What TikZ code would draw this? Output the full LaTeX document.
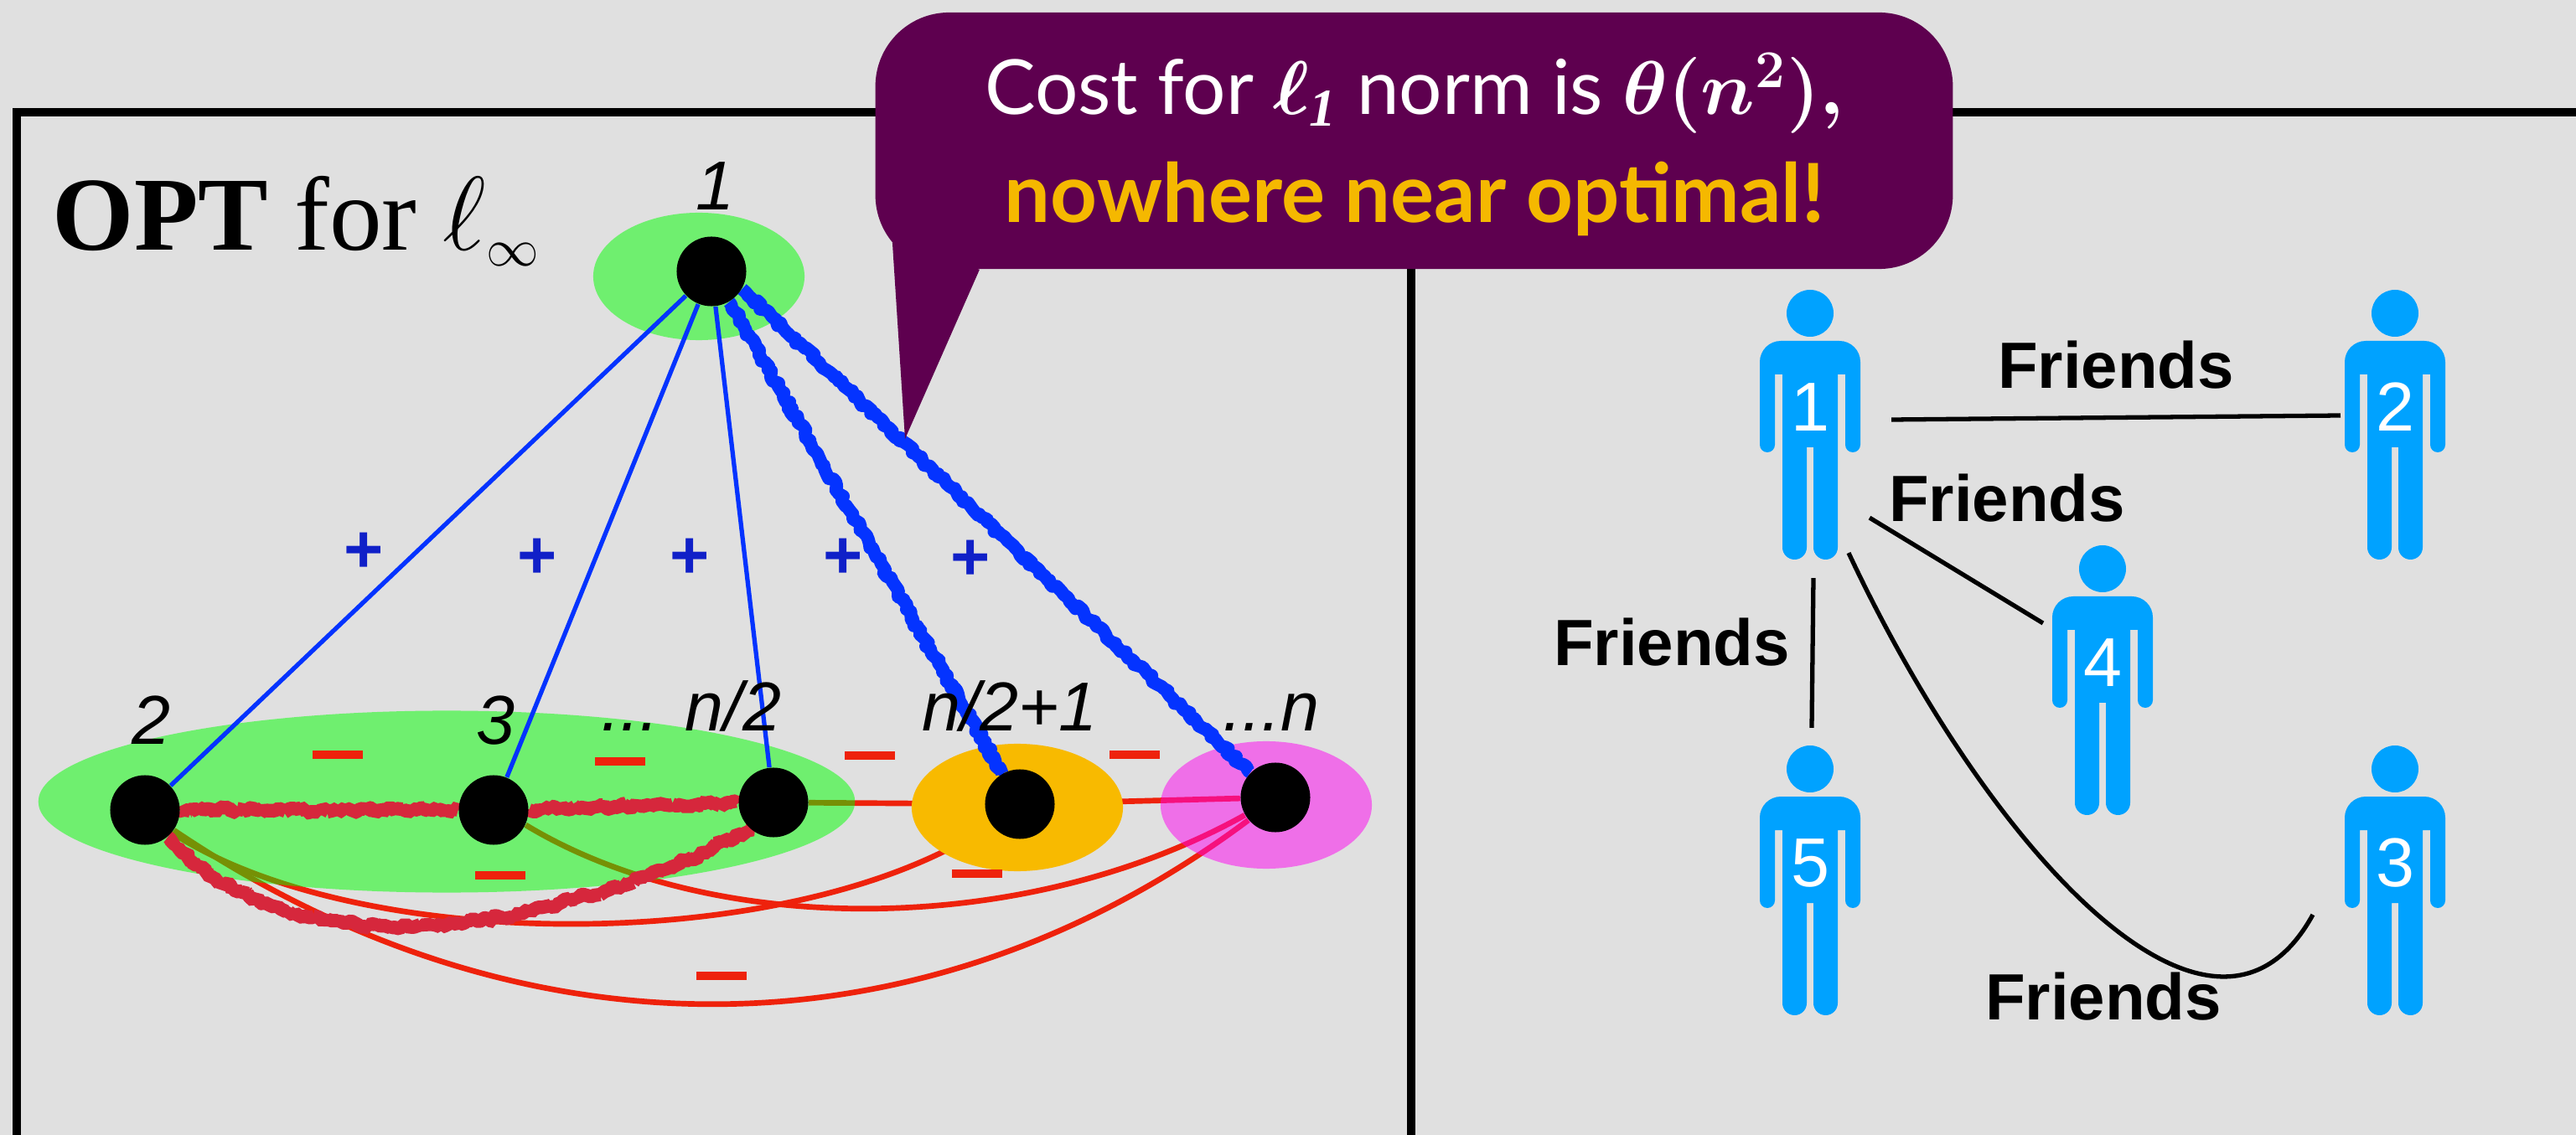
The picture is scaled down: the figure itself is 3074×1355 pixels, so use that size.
\RequirePackage{fix-cm}
\documentclass[tikz,border=0pt]{standalone}
\usepackage{fontspec}
\setmainfont{Liberation Serif}
\newfontfamily\figsans{Liberation Sans}
\newfontfamily\callsans{Lato}
\usepackage{tikz}
\usetikzlibrary{shapes.geometric,decorations.pathmorphing}
\definecolor{slidegray}{RGB}{224,224,224}
\definecolor{calloutplum}{RGB}{94,0,79}
\definecolor{calloutgold}{RGB}{245,184,0}
\definecolor{edgeblue}{RGB}{4,51,255}
\definecolor{plusblue}{RGB}{16,32,200}
\definecolor{edgered}{RGB}{238,34,12}
\definecolor{roughred}{RGB}{214,39,60}
\definecolor{blobgold}{RGB}{248,186,0}
\definecolor{blobpink}{RGB}{255,0,240}
\definecolor{personblue}{RGB}{0,162,255}
\pgfdeclarelayer{edgelayer}
\pgfdeclarelayer{bloblayer}
\pgfdeclarelayer{roughlayer}
\pgfsetlayers{edgelayer,bloblayer,roughlayer,main}
\newcommand{\friendfig}[4]{%
  \begin{scope}[shift={(#2,#3)}]
    \fill[personblue] (0,28) circle [radius=28];
    \fill[personblue] (-60,125) [rounded corners=0.25cm] -- (-60,61) -- (60,61) -- (60,125)
      [rounded corners=0.09cm] -- (60,194) -- (42,194) [sharp corners] -- (42,101) -- (33,101)
      [rounded corners=0.145cm] -- (33,322) -- (4,322) [sharp corners] -- (4,188) -- (-4,188)
      [rounded corners=0.145cm] -- (-4,322) -- (-33,322) [sharp corners] -- (-33,101) -- (-42,101)
      [rounded corners=0.09cm] -- (-42,194) -- (-60,194) [sharp corners] -- cycle;
    \node[figbox] (#1) at (0,161) {};
    \node[fignum] (#1num) at (0,140) {#4};
  \end{scope}}
\begin{document}
\begin{tikzpicture}[
  x=0.01cm,y=-0.01cm,
  vert/.style={circle,fill=black,inner sep=0pt,minimum size=0.83cm},
  blob/.style={ellipse,inner sep=0pt,minimum width=2.52cm,minimum height=1.52cm},
  vertlabel/.style={font=\figsans\itshape\fontsize{23.5}{24}\selectfont,inner sep=0pt},
  thinblue/.style={draw=edgeblue,line width=1.5pt},
  roughblue/.style={draw=edgeblue,line width=4.4pt,line join=round,decorate,decoration={random steps,segment length=1.2pt,amplitude=0.8pt}},
  thinred/.style={draw=edgered,line width=1.9pt},
  roughline/.style={draw=roughred,line width=4.6pt,line join=bevel,decorate,decoration={random steps,segment length=1pt,amplitude=1pt}},
  plussign/.style={font=\figsans\bfseries\fontsize{23}{24}\selectfont,text=plusblue,inner sep=0pt},
  minussign/.style={fill=edgered,inner sep=0pt,minimum width=0.6cm,minimum height=0.1cm},
  figbox/.style={inner sep=0pt,outer sep=0pt,minimum width=1.2cm,minimum height=3.22cm},
  fignum/.style={font=\figsans\fontsize{23.5}{24}\selectfont,text=white,inner sep=0pt},
  friendlabel/.style={font=\figsans\bfseries\fontsize{22.2}{24}\selectfont,inner sep=0pt},
  friendline/.style={draw=black,line width=1.5pt},
  frameline/.style={draw=black,line width=3pt},
  callout/.style={fill=calloutplum,rounded corners=0.88cm,inner sep=0pt,
    minimum width=12.85cm,minimum height=3.06cm},
  calltext/.style={anchor=base,inner sep=0pt,font=\callsans\fontsize{25.8}{30}\selectfont}
]
\useasboundingbox (0,0) rectangle (3074,1355);
\begin{pgfonlayer}{edgelayer}
\fill[slidegray] (0,0) rectangle (3074,1355);
\end{pgfonlayer}

\node[vert] (v1) at (849,324) {};
\node[vert] (v2) at (173,967) {};
\node[vert] (v3) at (589,967) {};
\node[vert] (vh) at (923,958) {};
\node[vert] (vj) at (1217,960) {};
\node[vert] (vn) at (1522,952) {};

\begin{pgfonlayer}{bloblayer}
\node[blob,fill=green,fill opacity=0.5] (blobtop) at (834,330) {};
\node[blob,fill=green,fill opacity=0.5,minimum width=9.74cm,minimum height=2.17cm] (blobleft) at (533,957) {};
\node[blob,fill=blobgold] (blobmid) at (1214,964) {};
\node[blob,fill=blobpink,fill opacity=0.5] (blobright) at (1511,961) {};
\end{pgfonlayer}

\begin{pgfonlayer}{edgelayer}
\coordinate (frametl) at (20,134);
\coordinate (frametr) at (3074,134);
\coordinate (framebl) at (20,1355);
\coordinate (midtop) at (1684,134);
\coordinate (midbot) at (1684,1355);
\draw[frameline] (framebl) -- (frametl) -- (frametr);
\draw[frameline] (midtop) -- (midbot);
\draw[thinred] (vh) -- (vj);
\draw[thinred] (vj) -- (vn);
\draw[thinred] (v2.-40) .. controls (430,1141) and (950,1141) .. (vj.-145);
\draw[thinred] (v3.-25) .. controls (850,1120) and (1222,1120) .. (vn.-150);
\draw[thinred] (v2.-35) .. controls (620,1270) and (1100,1270) .. (vn.-140);
\end{pgfonlayer}

\begin{pgfonlayer}{roughlayer}
\pgfmathsetseed{7}
\draw[thinblue] (v1) -- (v2);
\draw[thinblue] (v1) -- (v3);
\draw[thinblue] (v1) -- (vh);
\draw[roughblue] (v1.-60) -- (vj.120);
\draw[roughblue] (v1.-30) -- (vn.135);
\draw[roughline] (v2) -- (v3);
\draw[roughline] (v3) -- (vh);
\draw[roughline] (v2.-50) .. controls (340,1155) and (620,1130) .. (vh.-130);
\end{pgfonlayer}

\node[font=\fontsize{35.6}{38}\selectfont,anchor=base west,inner sep=0pt] (opt) at (62,299) {\textbf{OPT} for $\ell_{\scriptscriptstyle\infty}$};
\node[vertlabel,anchor=base] (lab1) at (853,251) {1};
\node[vertlabel,anchor=base] (lab2) at (180,889) {2};
\node[vertlabel,anchor=base] (lab3) at (591,889) {3};
\node[vertlabel,anchor=base east] (labh) at (933,873) {... n/2};
\node[vertlabel,anchor=base] (labj) at (1205,873) {n/2+1};
\node[vertlabel,anchor=base east] (labn) at (1575,873) {...n};

\foreach \i/\px/\py in {1/434/660,2/641/667,3/823/667,4/1006/667,5/1158/669}
  \node[plussign] (plus\i) at (\px,\py) {+};
\foreach \i/\px/\py in {1/403/901,2/740/909,3/1038/902,4/1354/901,5/597/1045,6/1166/1043,7/861/1165}
  \node[minussign] (minus\i) at (\px,\py) {};

\node[callout] (callnote) at (1687.5,168) {};
\node[calltext,text=white] (callone) at (1688,137) {Cost for {\boldmath$\ell_{\mathit{1}}$} norm is {\boldmath$\theta(n^{2}),$}};
\node[calltext,text=calloutgold,font=\callsans\bfseries\fontsize{27.7}{30}\selectfont] (calltwo) at (1688,266) {nowhere near optimal!};
\coordinate (calltip) at (1080,524);
\fill[calloutplum] ([shift={(21,-32)}]callnote.south west) -- (calltip) -- ([shift={(125,0)}]callnote.south west) -- cycle;

\friendfig{p1}{2160}{346}{1}
\friendfig{p2}{2858}{346}{2}
\friendfig{p4}{2509}{651}{4}
\friendfig{p5}{2160}{890}{5}
\friendfig{p3}{2858}{890}{3}

\node[friendlabel] (fr12) at (2525,436) {Friends};
\node[friendlabel] (fr14) at (2395,595) {Friends};
\node[friendlabel] (fr15) at (1995,767) {Friends};
\node[friendlabel] (fr13) at (2510,1190) {Friends};
\draw[friendline] ([shift={(37,-6)}]p1.east) -- ([shift={(-5,-11)}]p2.west);
\draw[friendline] ([shift={(71,-50)}]p1.south) -- ([shift={(-11,-68)}]p4.west);
\draw[friendline] ([shift={(4,22)}]p1.south) -- ([shift={(2,-21)}]p5.north);
\draw[friendline] ([shift={(46,-8)}]p1.south) .. controls (2370,1010) and (2640,1310) .. ([shift={(-38,41)}]p3.west);
\end{tikzpicture}
\end{document}
